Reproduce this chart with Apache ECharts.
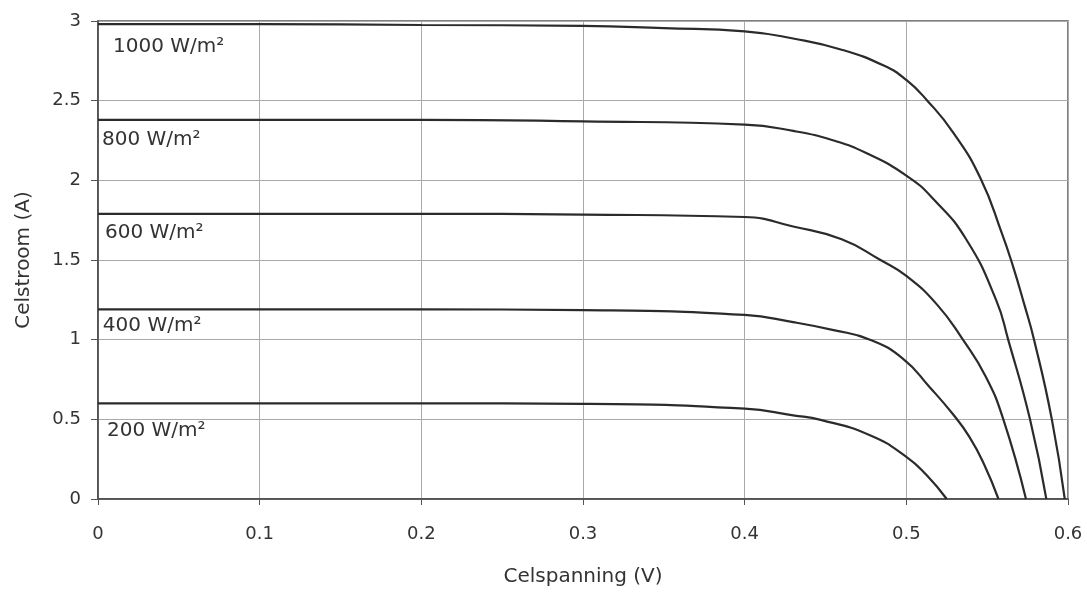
<!DOCTYPE html>
<html>
<head>
<meta charset="utf-8">
<script src="https://cdn.jsdelivr.net/npm/echarts@6/dist/echarts.min.js"></script>
<style>
html,body{margin:0;padding:0;background:#fff;}
#chart{width:1087px;height:592px;}
</style>
</head>
<body>
<div id="chart"></div>
<script>
// Tick labels
const xTicks = [0, 0.1, 0.2, 0.3, 0.4, 0.5, 0.6];
const yTicks = [0, 0.5, 1, 1.5, 2, 2.5, 3];

// Curve names
const curveNames = ['1000 W/m²', '800 W/m²', '600 W/m²', '400 W/m²', '200 W/m²'];

// [voltage (V), current (A)]
const curve1000 = [[0,2.98],[0.1,2.98],[0.2,2.975],[0.3,2.97],[0.35,2.955],[0.4,2.935],[0.43,2.89],[0.46,2.82],[0.486,2.72],[0.5,2.63],[0.513,2.5],[0.529,2.30],[0.546,2.01],[0.559,1.67],[0.566,1.46],[0.573,1.22],[0.579,1.0],[0.590,0.5],[0.598,0]];
const curve800 = [[0,2.38],[0.1,2.38],[0.2,2.38],[0.3,2.37],[0.4,2.35],[0.43,2.31],[0.455,2.25],[0.4755,2.17],[0.5,2.03],[0.517,1.88],[0.537,1.63],[0.5555,1.25],[0.563,1.0],[0.5765,0.5],[0.5866,0]];
const curve600 = [[0,1.79],[0.1,1.79],[0.2,1.79],[0.3,1.785],[0.4,1.77],[0.43,1.71],[0.46,1.63],[0.484,1.5],[0.5,1.4],[0.519,1.22],[0.535,1.0],[0.549,0.77],[0.56,0.5],[0.574,0]];
const curve400 = [[0,1.19],[0.1,1.19],[0.2,1.19],[0.3,1.185],[0.4,1.155],[0.43,1.11],[0.455,1.06],[0.4775,1.0],[0.498,0.88],[0.5146,0.70],[0.529,0.53],[0.539,0.39],[0.548,0.22],[0.557,0]];
const curve200 = [[0,0.6],[0.1,0.6],[0.2,0.6],[0.3,0.597],[0.4,0.567],[0.43,0.525],[0.447,0.497],[0.4775,0.40],[0.5,0.265],[0.5125,0.15],[0.525,0]];

const curves = [curve1000, curve800, curve600, curve400, curve200];
// label anchor in data units (where each irradiance label sits)
const labelAnchors = [[0.0093,2.836],[0.0025,2.254],[0.0043,1.673],[0.003,1.085],[0.0056,0.43]];

const FONT = 'DejaVu Sans';
const chart = echarts.init(document.getElementById('chart'), null, {renderer:'canvas'});

const series = curves.map((d, i) => ({
  name: curveNames[i],
  type: 'line',
  data: d,
  smooth: 0.5,
  showSymbol: false,
  symbol: 'none',
  lineStyle: {color: '#2b2b2b', width: 2.2},
  z: 5,
  markPoint: {
    symbol: 'circle',
    symbolSize: 0,
    silent: true,
    data: [{coord: labelAnchors[i]}],
    label: {
      show: true,
      position: 'right',
      distance: 0,
      formatter: curveNames[i],
      fontFamily: FONT,
      fontSize: 20,
      color: '#333'
    }
  }
}));

chart.setOption({
  animation: false,
  backgroundColor: '#fff',
  grid: {left: 98, right: 19, top: 21, bottom: 92, show: true, borderColor: '#555', borderWidth: 1.5, backgroundColor: 'transparent'},
  xAxis: {
    type: 'value', min: 0, max: 0.6, interval: 0.1,
    name: 'Celspanning (V)', nameLocation: 'middle', nameGap: 68,
    nameTextStyle: {fontFamily: FONT, fontSize: 20, color: '#333'},
    axisLine: {show: true, lineStyle: {color: '#444', width: 1.5}},
    axisTick: {show: true, length: 6, lineStyle: {color: '#555'}},
    axisLabel: {margin: 26, fontFamily: FONT, fontSize: 18, color: '#333',
      formatter: v => { const t = xTicks.find(x => Math.abs(x - v) < 1e-9); return t === undefined ? '' : String(t); }},
    splitLine: {show: true, lineStyle: {color: '#aaaaaa', width: 1}}
  },
  yAxis: {
    type: 'value', min: 0, max: 3, interval: 0.5,
    name: 'Celstroom (A)', nameLocation: 'middle', nameGap: 64, nameRotate: 90,
    nameTextStyle: {fontFamily: FONT, fontSize: 20, color: '#333'},
    axisLine: {show: true, lineStyle: {color: '#444', width: 1.5}},
    axisTick: {show: true, length: 7, lineStyle: {color: '#555'}},
    axisLabel: {margin: 17, fontFamily: FONT, fontSize: 18, color: '#333',
      formatter: v => { const t = yTicks.find(y => Math.abs(y - v) < 1e-9); return t === undefined ? '' : String(t); }},
    splitLine: {show: true, lineStyle: {color: '#aaaaaa', width: 1}}
  },
  series: series
});
</script>
</body>
</html>
